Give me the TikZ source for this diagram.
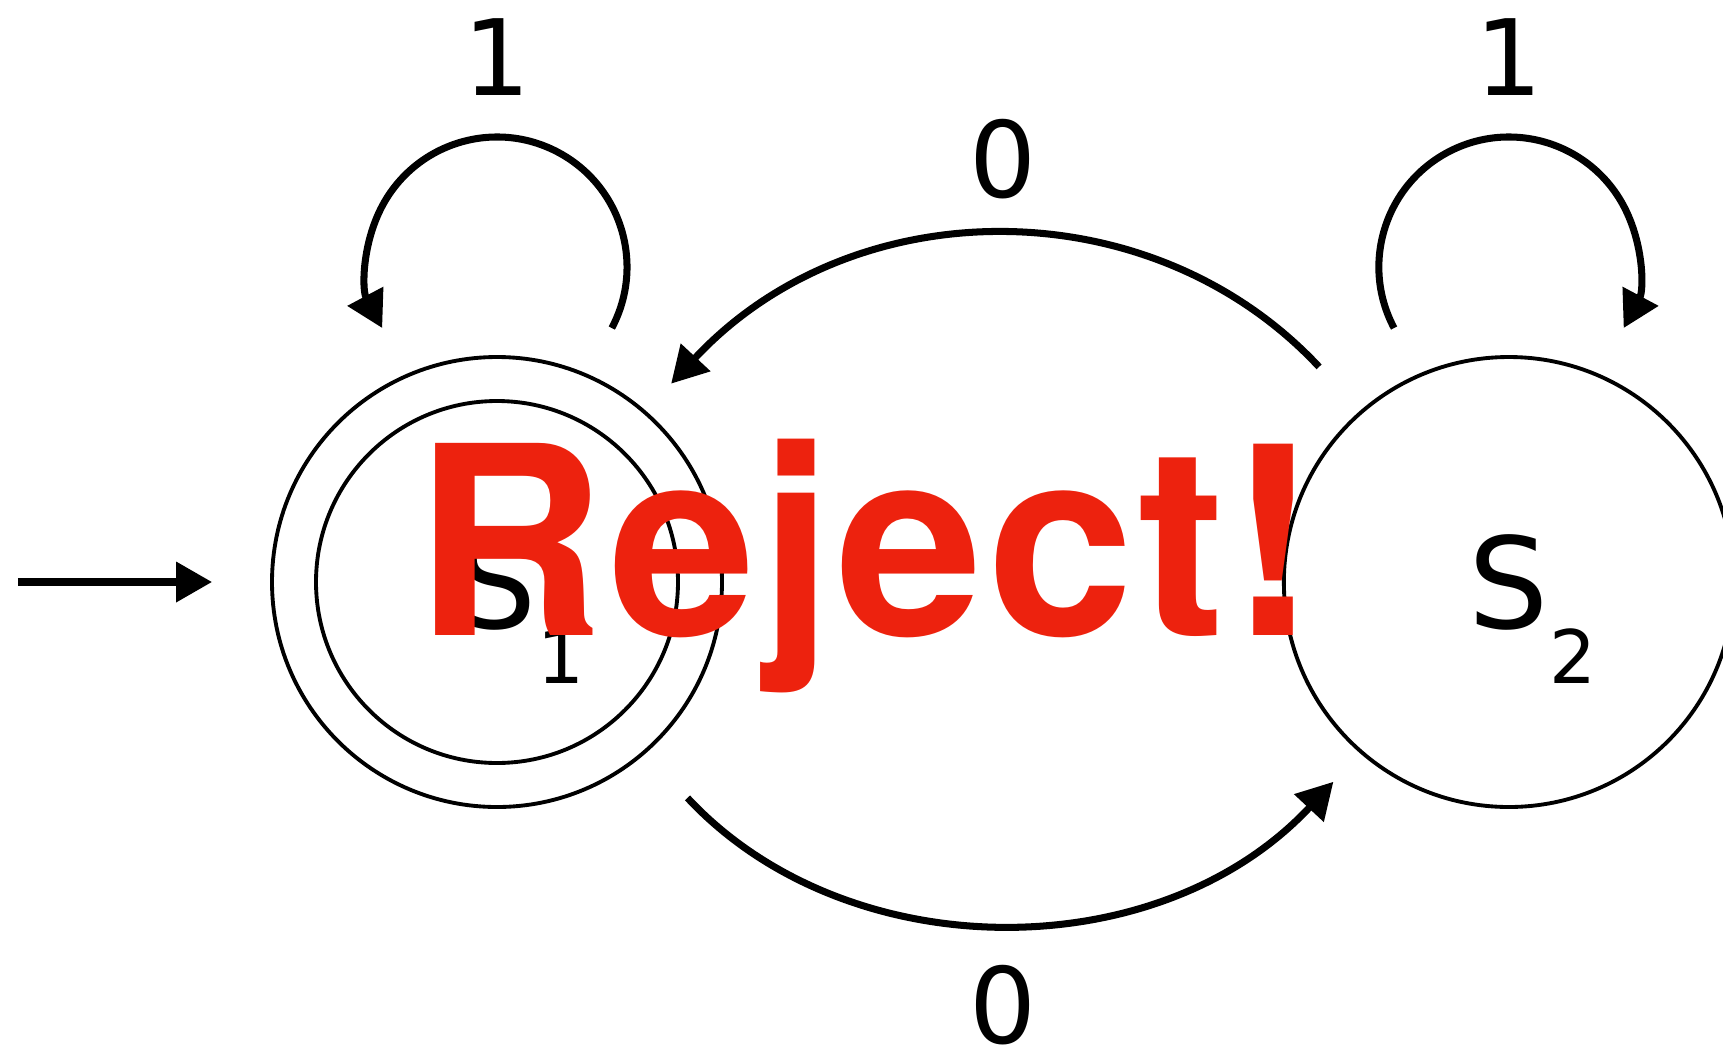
\documentclass[tikz,border=0pt]{standalone}
\usepackage{fontspec}
\setmainfont{DejaVu Sans}
\newfontfamily\rejfont{TeX Gyre Heros}[LetterSpace=1.5]
\usepackage{tikz}
\usetikzlibrary{positioning, arrows.meta}
\definecolor{rejred}{RGB}{237,34,14}
\newcommand{\sname}[1]{S\rlap{\raisebox{-0.55cm}[0pt][0pt]{\fontsize{21pt}{21pt}\selectfont #1}}}
\tikzset{
  state/.style={circle, draw, line width=1.1pt, minimum size=4.5cm, inner sep=0pt,
                font=\fontsize{36pt}{40pt}\selectfont},
  lbl/.style={inner sep=0pt, font=\fontsize{30pt}{36pt}\selectfont},
  arr/.style={-{Triangle[length=3.6mm, width=3.9mm]}, line width=2pt},
  rej/.style={inner sep=0pt, text=rejred, font=\rejfont\bfseries\fontsize{75pt}{80pt}\selectfont},
}

\begin{document}
\begin{tikzpicture}
  \useasboundingbox (0,0) rectangle (17.23,10.55);
  % states: S1 accepting (double ring), S2 to its right
  \node[state] (s1) at (4.97,4.73) {\sname{1}};
  \node[state, minimum size=3.62cm] (s1in) at (s1) {};
  \node[state, right=5.58cm of s1] (s2) {\sname{2}};
  % start arrow
  \coordinate (start) at (0.18,4.73);
  \draw[arr, shorten >=0.58cm] (start) -- (s1);
  % self loops on 1 (centres of the loop arcs)
  \coordinate[above=3.15cm of s1.center] (c1);
  \coordinate[above=3.15cm of s2.center] (c2);
  \draw[arr] (c1) ++(-28:1.3) arc[start angle=-28, end angle=208, radius=1.3cm];
  \draw[arr] (c2) ++(208:1.3) arc[start angle=208, end angle=-28, radius=1.3cm];
  \node[lbl, above=1.71cm of c1] (l1a) {1};
  \node[lbl, above=1.71cm of c2] (l1b) {1};
  % transitions on 0
  \draw[arr, shorten <=0.6cm, shorten >=0.37cm] (s2.131) .. controls +(133:3.05) and +(47:3.05) .. (s1.49)
    node[lbl, pos=0.5, above=0.41cm] (l0a) {0};
  \draw[arr, shorten <=0.61cm, shorten >=0.39cm] (s1.-49) .. controls +(-47:2.95) and +(-133:2.95) .. (s2.-131)
    node[lbl, pos=0.5, below=0.47cm] (l0b) {0};
  % stamp
  \node[rej, anchor=base] (stamp) at (8.66,4.20) {Reject!};
\end{tikzpicture}
\end{document}
